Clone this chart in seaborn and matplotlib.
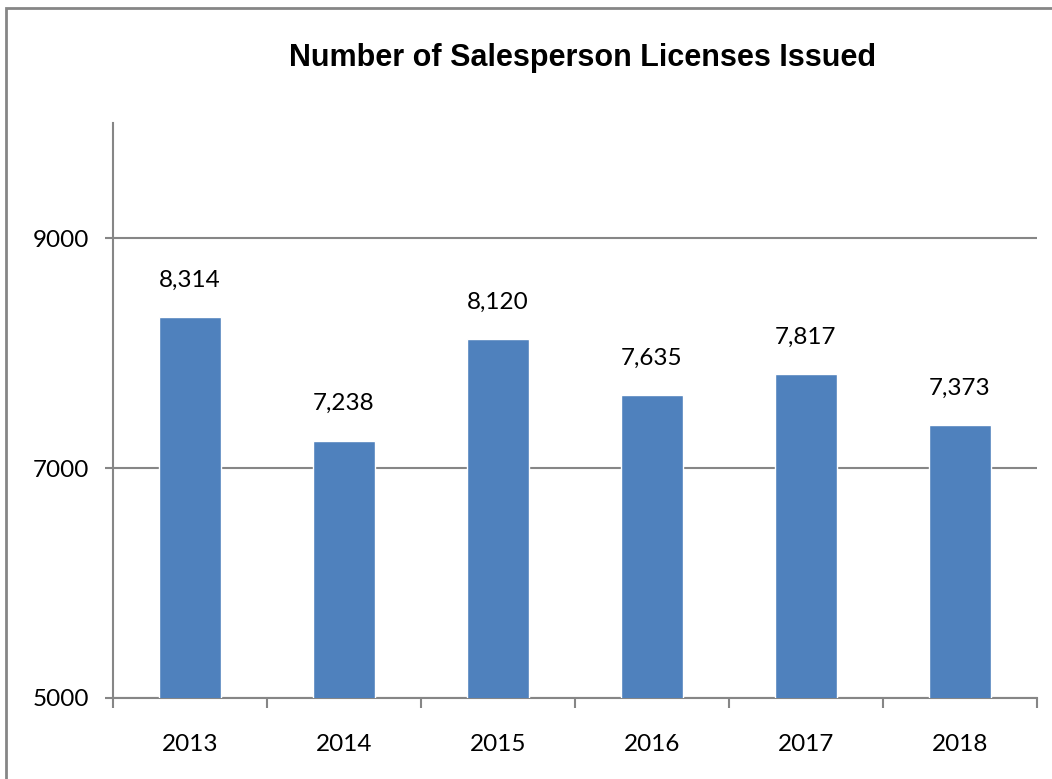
import matplotlib
matplotlib.use('Agg')
import matplotlib.pyplot as plt
import seaborn as sns
import pandas as pd
from matplotlib.patches import Rectangle

# Данные
years = ['2013', '2014', '2015', '2016', '2017', '2018']
licenses = [8314, 7238, 8120, 7635, 7817, 7373]
y_ticks = [5000, 7000, 9000]

df = pd.DataFrame({'Year': years, 'Licenses': licenses})

sns.set_style('white')
plt.rcParams['font.family'] = ['Lato', 'DejaVu Sans']

grey = '#868686'
fig = plt.figure(figsize=(10.52, 7.79), dpi=100)
ax = fig.add_axes([0.1074, 0.104, 0.8783, 0.738])

sns.barplot(data=df, x='Year', y='Licenses', color='#4F81BD', width=0.4,
            saturation=1, ax=ax, zorder=3)

ax.bar_label(ax.containers[0], labels=[f'{v:,}' for v in licenses],
             padding=19, fontsize=17.5, color='black')

ax.set_ylim(5000, 10000)
ax.set_xlim(-0.5, len(years) - 0.5)
ax.set_yticks(y_ticks)
ax.set_yticklabels([str(t) for t in y_ticks], fontsize=17.5)
ax.tick_params(axis='x', length=0, labelsize=17.5, pad=26, labelcolor='black')
ax.tick_params(axis='y', left=True, length=6, width=1.5, color=grey,
               direction='out', pad=11, labelcolor='black')
ax.set_xticks([i - 0.5 for i in range(len(years) + 1)], minor=True)
ax.tick_params(axis='x', which='minor', bottom=True, length=7, width=1.5,
               color=grey, direction='out')
ax.set_xlabel('')
ax.set_ylabel('')

ax.yaxis.grid(True, color=grey, linewidth=1.5, zorder=0)
for s in ['top', 'right']:
    ax.spines[s].set_visible(False)
for s in ['left', 'bottom']:
    ax.spines[s].set_color(grey)
    ax.spines[s].set_linewidth(1.5)

fig.text(0.554, 0.925, 'Number of Salesperson Licenses Issued',
         ha='center', va='center', fontsize=22, fontweight='bold', color='black',
         family=['Liberation Sans Narrow', 'Liberation Sans', 'DejaVu Sans'])

# Рамка вокруг диаграммы
fig.patches.append(Rectangle((6 / 1052, -0.05), 1.1, 1 - 8 / 779 + 0.05,
                             transform=fig.transFigure, fill=False,
                             edgecolor=grey, linewidth=2))

plt.savefig('out.png', dpi=100)
plt.close()
